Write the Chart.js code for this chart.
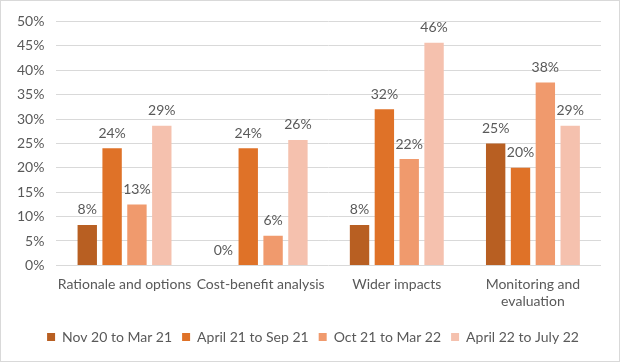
<!DOCTYPE html>
<html>
<head>
<meta charset="utf-8">
<script src="https://cdn.jsdelivr.net/npm/chart.js@4"></script>
<style>
    html, body { margin: 0; padding: 0; background: #fff; }
    #wrap {
        width: 620px; height: 362px; box-sizing: border-box;
        border: 1px solid #d9d9d9; position: relative;
    }
    canvas { display: block; }
</style>
</head>
<body>
<div id="wrap"><canvas id="chart" width="618" height="360"></canvas></div>
<script>
// ─── Data ────────────────────────────────────────────────────────────────────
const categories = ['Rationale and options', 'Cost-benefit analysis', 'Wider impacts', ['Monitoring and', 'evaluation']];
const seriesNames = ['Nov 20 to Mar 21', 'April 21 to Sep 21', 'Oct 21 to Mar 22', 'April 22 to July 22'];
const nov20Mar21 = [8.3, 0, 8.3, 25];
const apr21Sep21 = [24, 24, 32, 20];
const oct21Mar22 = [12.5, 6.1, 21.8, 37.5];
const apr22Jul22 = [28.6, 25.7, 45.6, 28.6];
const yTicks = [0, 5, 10, 15, 20, 25, 30, 35, 40, 45, 50];

const colors = ['#b85f22', '#df7228', '#f09a6d', '#f5c1ae'];
const textColor = '#595959';
const fontFamily = 'Lato, "Noto Sans", sans-serif';

// ─── Value labels above bars ────────────────────────────────────────────────
const barLabels = {
    id: 'barLabels',
    afterLayout(chart) {
        // centre the legend on the whole picture, not on the padded box
        chart.legend.left += 10;
        chart.legend.right += 10;
    },
    afterDatasetsDraw(chart) {
        const ctx = chart.ctx;
        ctx.save();
        ctx.fillStyle = textColor;
        ctx.font = '14px ' + fontFamily;
        ctx.textAlign = 'center';
        ctx.textBaseline = 'middle';
        chart.data.datasets.forEach(function (ds, i) {
            chart.getDatasetMeta(i).data.forEach(function (bar, j) {
                ctx.fillText(Math.round(ds.data[j]) + '%', bar.x, bar.y - 15);
            });
        });
        ctx.restore();
    }
};

new Chart(document.getElementById('chart'), {
    type: 'bar',
    data: {
        labels: categories,
        datasets: [nov20Mar21, apr21Sep21, oct21Mar22, apr22Jul22].map(function (d, i) {
            return {
                label: seriesNames[i],
                data: d,
                backgroundColor: colors[i],
                barPercentage: 0.78,
                categoryPercentage: 0.73
            };
        })
    },
    plugins: [barLabels],
    options: {
        responsive: false,
        animation: false,
        layout: { padding: { top: 9, right: 18, left: 4, bottom: 7 } },
        plugins: {
            tooltip: { enabled: false },
            legend: {
                position: 'bottom',
                labels: {
                    boxWidth: 8, boxHeight: 8, padding: 10,
                    color: textColor,
                    font: { family: fontFamily, size: 14 }
                }
            }
        },
        scales: {
            y: {
                min: 0, max: 50,
                afterBuildTicks: function (axis) { axis.ticks = yTicks.map(function (v) { return { value: v }; }); },
                ticks: {
                    color: textColor, padding: 12,
                    font: { family: fontFamily, size: 14 },
                    callback: function (v) { return v + '%'; }
                },
                grid: { color: '#d9d9d9', drawTicks: false, lineWidth: 1 },
                border: { display: false }
            },
            x: {
                afterFit: function (axis) { axis.height += 7; },
                ticks: {
                    color: textColor, font: { family: fontFamily, size: 14 },
                    maxRotation: 0, autoSkip: false, padding: 3
                },
                grid: { display: false },
                border: { display: false }
            }
        }
    }
});
</script>
</body>
</html>
